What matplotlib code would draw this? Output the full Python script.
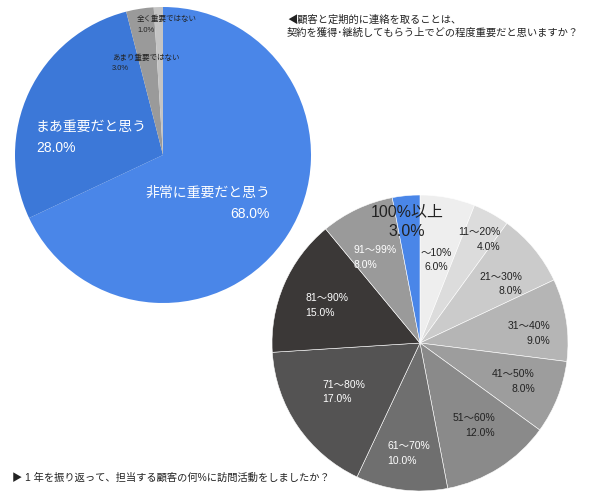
import matplotlib
matplotlib.use("Agg")
import matplotlib.pyplot as plt

plt.rcParams['font.family'] = ['Liberation Sans', 'Noto Sans CJK JP', 'DejaVu Sans']

# ---- data ----
imp_labels = ["非常に重要だと思う", "まあ重要だと思う", "あまり重要ではない", "全く重要ではない"]
imp_values = [68.0, 28.0, 3.0, 1.0]

visit_labels = ["～10%", "11～20%", "21～30%", "31～40%", "41～50%", "51～60%",
                "61～70%", "71～80%", "81～90%", "91～99%", "100%以上"]
visit_values = [6.0, 4.0, 8.0, 9.0, 8.0, 12.0, 10.0, 17.0, 15.0, 8.0, 3.0]

title_top = "◀顧客と定期的に連絡を取ることは、\n契約を獲得･継続してもらう上でどの程度重要だと思いますか？"
title_bottom = "▶ 1 年を振り返って、担当する顧客の何%に訪問活動をしましたか？"

# ---- styles ----
imp_colors = ["#4a86e8", "#3c78d8", "#9a9a9a", "#c4c4c4"]
visit_colors = ["#eeeeee", "#dcdcdc", "#cbcbcb", "#b5b5b5", "#9d9d9d", "#8a8a8a",
                "#6f6f6f", "#545353", "#3b3837", "#9a9a9a", "#4a86e8"]

W, H = 595, 500
fig = plt.figure(figsize=(W / 100, H / 100), dpi=100)

R = 148

def make_ax(cx, cy):
    ax = fig.add_axes([(cx - R) / W, 1 - (cy + R) / H, 2 * R / W, 2 * R / H])
    return ax

def fix_ax(ax):
    ax.set_xlim(-1, 1)
    ax.set_ylim(-1, 1)
    ax.set_aspect('equal')
    ax.axis('off')

def px(cx, cy, x, y):
    return (x - cx) / R, (cy - y) / R

# left pie
cx1, cy1 = 163, 155
ax1 = make_ax(cx1, cy1)
ax1.pie(imp_values, colors=imp_colors, startangle=90, counterclock=False,
        radius=1, wedgeprops=dict(edgecolor='none'))
fix_ax(ax1)
# label layout: (x_px, y_px_first_line, ha, fontsize, color)
imp_layout = [
    (270, 193, 'right', 10, 'white'),
    (36, 127, 'left', 10, 'white'),
    (112, 58, 'left', 5.4, '#222222'),
    (137, 19, 'left', 5.4, '#222222'),
]
for lab, v, (x, y, ha, fs, c) in zip(imp_labels, imp_values, imp_layout):
    gap = 21 if fs > 8 else 11
    xx, yy = px(cx1, cy1, x, y)
    ax1.text(xx, yy, lab, ha=ha, va='center', fontsize=fs, color=c)
    xx2, yy2 = px(cx1, cy1, x, y + gap)
    ax1.text(xx2, yy2, f"{v:.1f}%", ha=ha, va='center', fontsize=fs, color=c)

# right pie
cx2, cy2 = 420, 343
ax2 = make_ax(cx2, cy2)
ax2.pie(visit_values, colors=visit_colors, startangle=90, counterclock=False,
        radius=1, wedgeprops=dict(edgecolor='white', linewidth=0.4))
fix_ax(ax2)
visit_layout = [
    (436, 253, 'center', 7.5, '#222222'),
    (500, 232, 'right', 7.5, '#222222'),
    (522, 277, 'right', 7.5, '#222222'),
    (550, 326, 'right', 7.5, '#222222'),
    (535, 374, 'right', 7.5, '#222222'),
    (495, 418, 'right', 7.5, '#222222'),
    (387, 446, 'left', 7.5, 'white'),
    (322, 385, 'left', 7.5, 'white'),
    (305, 298, 'left', 7.5, 'white'),
    (354, 250, 'left', 7.5, 'white'),
    (407, 212, 'center', 11.5, '#222222'),
]
for lab, v, (x, y, ha, fs, c) in zip(visit_labels, visit_values, visit_layout):
    gap = 20 if fs > 10 else 14.5
    xx, yy = px(cx2, cy2, x, y)
    ax2.text(xx, yy, lab, ha=ha, va='center', fontsize=fs, color=c)
    xx2, yy2 = px(cx2, cy2, x, y + gap)
    ax2.text(xx2, yy2, f"{v:.1f}%", ha=ha, va='center', fontsize=fs, color=c)

fig.text(287 / W, 1 - 26 / H, title_top, ha='left', va='center', fontsize=7.4,
         color='#222222', linespacing=1.35)
fig.text(12 / W, 1 - 478 / H, title_bottom, ha='left', va='center', fontsize=7.4,
         color='#222222')

fig.savefig("out.png", dpi=100, facecolor='white')
